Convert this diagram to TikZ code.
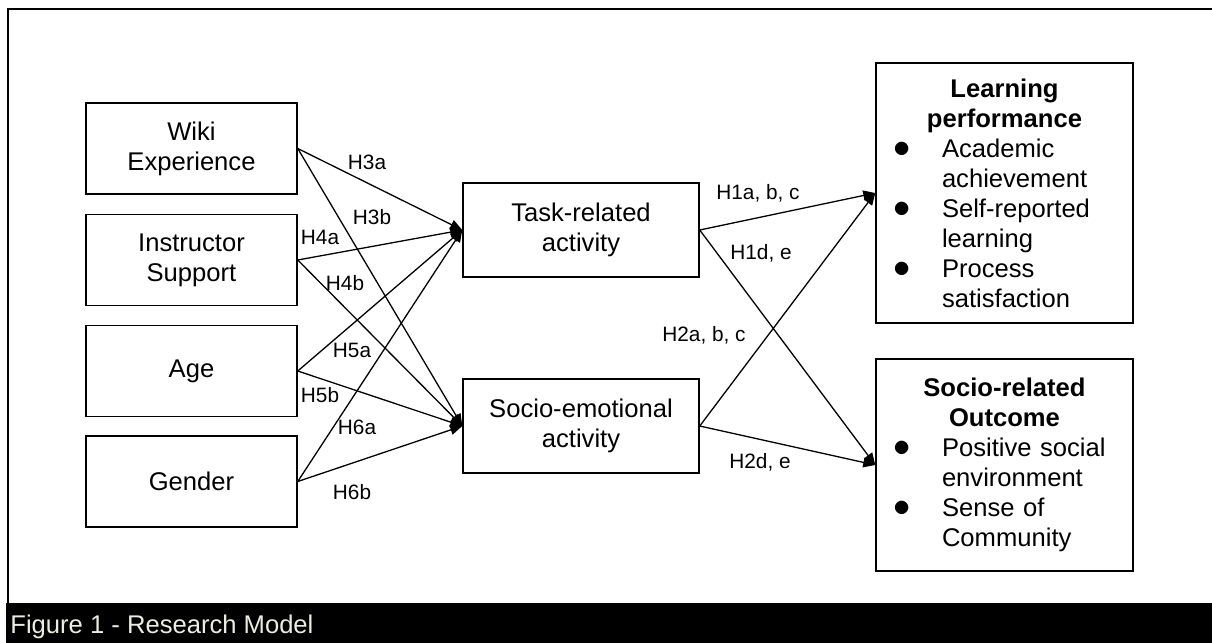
\documentclass[tikz,border=0pt]{standalone}
\usepackage{fontspec}
\setmainfont{Liberation Sans}
\usetikzlibrary{arrows.meta}
\definecolor{captiongrey}{RGB}{236,236,224}
\newcommand{\outtitle}[1]{{\centering\bfseries #1\par}}
\newcommand{\outitem}[2]{{\noindent\hangindent=33pt\hangafter=1\hspace*{8.5pt}%
  \makebox[24.5pt][l]{\fontsize{16}{15}\selectfont$\bullet$}#1\newline #2\par}}

\begin{document}
\begin{tikzpicture}[x=0.5pt, y=-0.5pt,
    inbox/.style={draw, line width=0.75pt, minimum width=105.5pt, minimum height=45.5pt,
      align=center, font=\fontsize{12.8}{15}\selectfont},
    midbox/.style={inbox, minimum width=118pt, minimum height=47pt},
    outbox/.style={draw, line width=0.75pt, text width=128.5pt, inner xsep=0pt,
      font=\fontsize{12.8}{15}\selectfont},
    hlab/.style={inner sep=0pt, font=\fontsize{10.4}{12}\selectfont},
    hyp/.style={line width=0.65pt, -{Triangle[length=6pt,width=5pt]}}]
      \useasboundingbox (0,0) rectangle (1212,643);

      % frame and caption bar
      \fill[black] (6,603) rectangle (1212,643);
      \draw[line width=1pt] (7.5,603) -- (7.5,9) -- (1212,9);
      \node[anchor=base west, inner sep=0pt, text=captiongrey, font=\fontsize{12.8}{15}\selectfont]
        (caption) at (10,633) {Figure 1 - Research Model};

      % antecedents
      \node[inbox] (wiki)   at (191.5,148.5) {Wiki\\Experience};
      \node[inbox] (instr)  at (191.5,260)   {Instructor\\Support};
      \node[inbox] (age)    at (191.5,371)   {Age};
      \node[inbox] (gender) at (191.5,481.5) {Gender};

      % activities
      \node[midbox] (task)  at (581,230) {Task-related\\activity};
      \node[midbox] (socio) at (581,426) {Socio-emotional\\activity};

      % outcomes
      \node[outbox, minimum height=130pt] (learn) at (1004.5,193)
        {\outtitle{Learning\\performance}\outitem{Academic}{achievement}%
         \outitem{Self-reported}{learning}\outitem{Process}{satisfaction}};
      \node[outbox, minimum height=106pt] (social) at (1004.5,465)
        {\outtitle{Socio-related\\Outcome}\outitem{Positive social}{environment}%
         \outitem{Sense of}{Community}};

      % hypotheses
      \foreach \src in {wiki,instr,age,gender} {
        \draw[hyp] (\src.east) -- (task.west);
        \draw[hyp] (\src.east) -- (socio.west);
      }
      \foreach \src in {task,socio} {
        \draw[hyp] (\src.east) -- (learn.west);
        \draw[hyp] (\src.east) -- (social.west);
      }

      % hypothesis labels
      \node[hlab] (h3a) at (367,162) {H3a};
      \node[hlab] (h3b) at (372,217) {H3b};
      \node[hlab] (h4a) at (320,237) {H4a};
      \node[hlab] (h4b) at (345,283) {H4b};
      \node[hlab] (h5a) at (352,350) {H5a};
      \node[hlab] (h5b) at (320,395) {H5b};
      \node[hlab] (h6a) at (357,427) {H6a};
      \node[hlab] (h6b) at (352,492) {H6b};
      \node[hlab] (h1abc) at (758,193) {H1a, b, c};
      \node[hlab] (h1de)  at (761,253) {H1d, e};
      \node[hlab] (h2abc) at (704,335) {H2a, b, c};
      \node[hlab] (h2de)  at (760,462) {H2d, e};
    \end{tikzpicture}
\end{document}
